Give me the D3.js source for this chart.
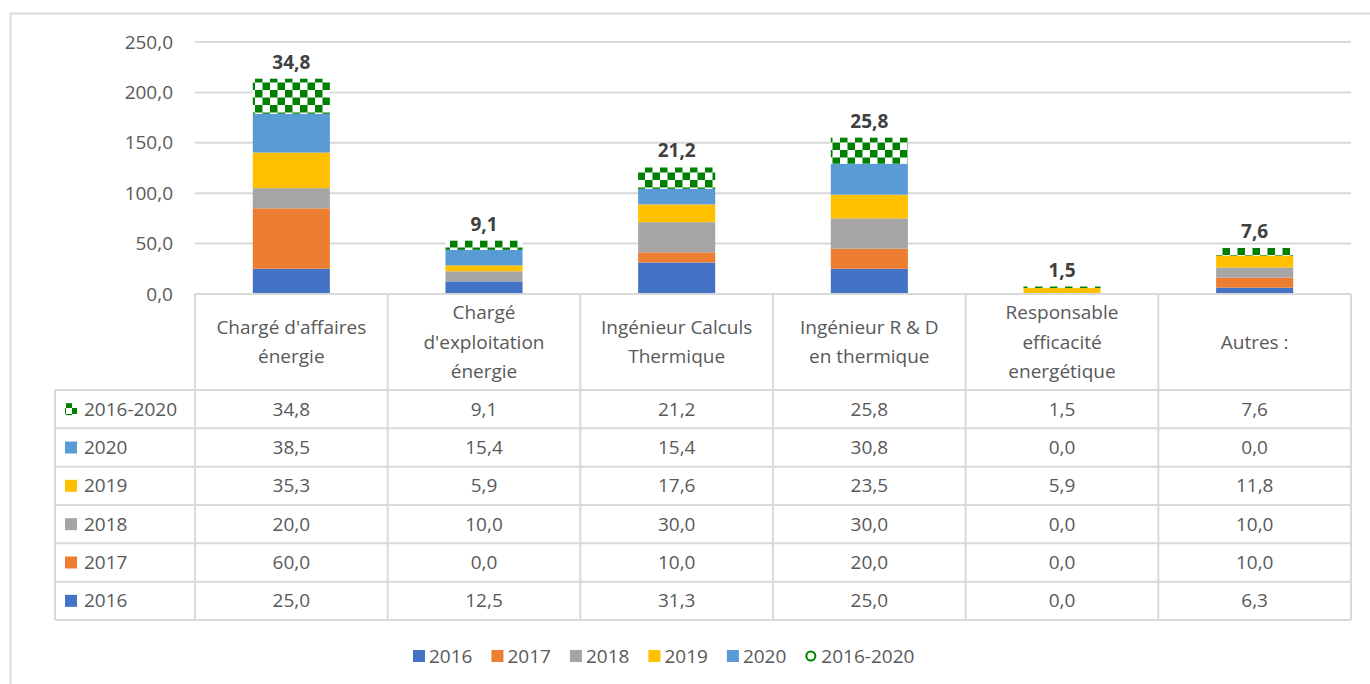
<!doctype html>
<html>
<head>
<meta charset="utf-8">
<style>
  body { margin: 0; background: #fff; }
  svg text { font-family: "Open Sans", "Noto Sans", sans-serif; }
</style>
<script src="https://d3js.org/d3.v7.min.js"></script>
</head>
<body>
<svg width="1370" height="684"></svg>
<script>
// categories (line breaks as in the table header)
var categories = [
  "Chargé d'affaires\nénergie",
  "Chargé\nd'exploitation\nénergie",
  "Ingénieur Calculs\nThermique",
  "Ingénieur R & D\nen thermique",
  "Responsable\nefficacité\nenergétique",
  "Autres :"
];

var s2016 = [25.0, 12.5, 31.3, 25.0, 0.0, 6.3];
var s2017 = [60.0, 0.0, 10.0, 20.0, 0.0, 10.0];
var s2018 = [20.0, 10.0, 30.0, 30.0, 0.0, 10.0];
var s2019 = [35.3, 5.9, 17.6, 23.5, 5.9, 11.8];
var s2020 = [38.5, 15.4, 15.4, 30.8, 0.0, 0.0];
var s2016_2020 = [34.8, 9.1, 21.2, 25.8, 1.5, 7.6];

var yTicks = [0, 50, 100, 150, 200, 250];

var series = [
  { name: "2016", values: s2016, color: "#4472C4" },
  { name: "2017", values: s2017, color: "#ED7D31" },
  { name: "2018", values: s2018, color: "#A5A5A5" },
  { name: "2019", values: s2019, color: "#FFC000" },
  { name: "2020", values: s2020, color: "#5B9BD5" },
  { name: "2016-2020", values: s2016_2020, color: "#008000", pattern: true }
];

var svg = d3.select("svg");
var textColor = "#595959";
var lineColor = "#d9d9d9";
var fmt = function(v) { return d3.format(".1f")(v).replace(".", ","); };

// checkerboard pattern for 2016-2020
var defs = svg.append("defs");
function checker(id, s) {
  var p = defs.append("pattern").attr("id", id)
    .attr("patternUnits", "userSpaceOnUse")
    .attr("width", s * 2).attr("height", s * 2);
  p.append("rect").attr("width", s * 2).attr("height", s * 2).attr("fill", "#fff");
  p.append("rect").attr("width", s).attr("height", s).attr("fill", "#008000");
  p.append("rect").attr("x", s).attr("y", s).attr("width", s).attr("height", s).attr("fill", "#008000");
}
checker("chk", 7.5);
checker("chkSmall", 6);

// outer border
svg.append("rect")
  .attr("x", 10.5).attr("y", 13.5)
  .attr("width", 1400).attr("height", 700)
  .attr("fill", "none").attr("stroke", lineColor).attr("stroke-width", 2);

var left = 195, right = 1351;
var x = d3.scaleBand().domain(d3.range(categories.length))
  .range([left, right]).paddingInner(0.6).paddingOuter(0.3);
var col = d3.scaleBand().domain(d3.range(categories.length)).range([left, right]);
var y = d3.scaleLinear().domain([0, 250]).range([294, 42]);

// gridlines
svg.append("g").selectAll("line").data(yTicks.slice(1)).enter().append("line")
  .attr("x1", left).attr("x2", right)
  .attr("y1", function(d) { return y(d); }).attr("y2", function(d) { return y(d); })
  .attr("stroke", lineColor).attr("stroke-width", 2);

// y axis labels
svg.append("g").selectAll("text").data(yTicks).enter().append("text")
  .attr("x", 173).attr("y", function(d) { return y(d); })
  .attr("dy", "0.35em").attr("text-anchor", "end")
  .attr("font-size", 19).attr("fill", textColor)
  .text(fmt);

// stacked bars
var stacked = d3.stack().keys(d3.range(series.length))
  .value(function(i, k) { return series[k].values[i]; })(d3.range(categories.length));

svg.append("g").selectAll("g").data(stacked).enter().append("g")
  .each(function(layer, k) {
    var s = series[k];
    d3.select(this).selectAll("rect").data(layer).enter().append("rect")
      .attr("x", function(d, i) { return x(i); })
      .attr("width", x.bandwidth())
      .attr("y", function(d) { return y(d[1]); })
      .attr("height", function(d) { return y(d[0]) - y(d[1]); })
      .attr("fill", s.pattern ? "url(#chk)" : s.color);
  });

// data labels on top
var topLayer = stacked[stacked.length - 1];
svg.append("g").selectAll("text").data(topLayer).enter().append("text")
  .attr("x", function(d, i) { return x(i) + x.bandwidth() / 2; })
  .attr("y", function(d) { return y(d[1]) - 10; })
  .attr("text-anchor", "middle")
  .attr("font-size", 19).attr("font-weight", "bold").attr("fill", "#404040")
  .text(function(d, i) { return fmt(s2016_2020[i]); });

// data table
var headTop = 294, headBottom = 390, rowH = (620 - 390) / 6, tableLeft = 55;
var rows = series.slice().reverse();
var tbl = svg.append("g");

// horizontal lines
tbl.append("line").attr("x1", left).attr("x2", right)
  .attr("y1", headTop).attr("y2", headTop)
  .attr("stroke", lineColor).attr("stroke-width", 2);
d3.range(rows.length + 1).forEach(function(r) {
  var yy = headBottom + r * rowH;
  tbl.append("line").attr("x1", tableLeft).attr("x2", right)
    .attr("y1", yy).attr("y2", yy)
    .attr("stroke", lineColor).attr("stroke-width", 2);
});
// vertical lines
tbl.append("line").attr("x1", tableLeft).attr("x2", tableLeft)
  .attr("y1", headBottom).attr("y2", headBottom + rows.length * rowH)
  .attr("stroke", lineColor).attr("stroke-width", 2);
d3.range(categories.length + 1).forEach(function(c) {
  var xx = c < categories.length ? col(c) : right;
  tbl.append("line").attr("x1", xx).attr("x2", xx)
    .attr("y1", headTop).attr("y2", headBottom + rows.length * rowH)
    .attr("stroke", lineColor).attr("stroke-width", 2);
});

// header labels
categories.forEach(function(c, i) {
  var lines = c.split("\n");
  var cy = (headTop + headBottom) / 2, lh = 29.5;
  var t = tbl.append("text")
    .attr("text-anchor", "middle").attr("font-size", 19).attr("fill", textColor);
  lines.forEach(function(l, j) {
    t.append("tspan").attr("x", col(i) + col.bandwidth() / 2)
      .attr("y", cy + (j - (lines.length - 1) / 2) * lh)
      .attr("dy", "0.35em").text(l);
  });
});

// rows
rows.forEach(function(s, r) {
  var cy = headBottom + r * rowH + rowH / 2;
  tbl.append("rect").attr("x", 65).attr("y", cy - 6).attr("width", 12).attr("height", 12)
    .attr("fill", s.pattern ? "url(#chkSmall)" : s.color);
  tbl.append("text").attr("x", 84).attr("y", cy).attr("dy", "0.35em")
    .attr("font-size", 19).attr("fill", textColor).text(s.name);
  s.values.forEach(function(v, i) {
    tbl.append("text").attr("x", col(i) + col.bandwidth() / 2).attr("y", cy)
      .attr("dy", "0.35em").attr("text-anchor", "middle")
      .attr("font-size", 19).attr("fill", textColor).text(fmt(v));
  });
});

// legend
var leg = svg.append("g");
var lx = 413, ly = 656;
series.forEach(function(s) {
  if (s.pattern) {
    leg.append("circle").attr("cx", lx + 5.5).attr("cy", ly).attr("r", 4.5)
      .attr("fill", "#fff").attr("stroke", s.color).attr("stroke-width", 2);
  } else {
    leg.append("rect").attr("x", lx).attr("y", ly - 6).attr("width", 12).attr("height", 12)
      .attr("fill", s.color);
  }
  var t = leg.append("text").attr("x", lx + 16).attr("y", ly).attr("dy", "0.35em")
    .attr("font-size", 19).attr("fill", textColor).text(s.name);
  lx += 16 + t.node().getComputedTextLength() + 19;
});
</script>
</body>
</html>
